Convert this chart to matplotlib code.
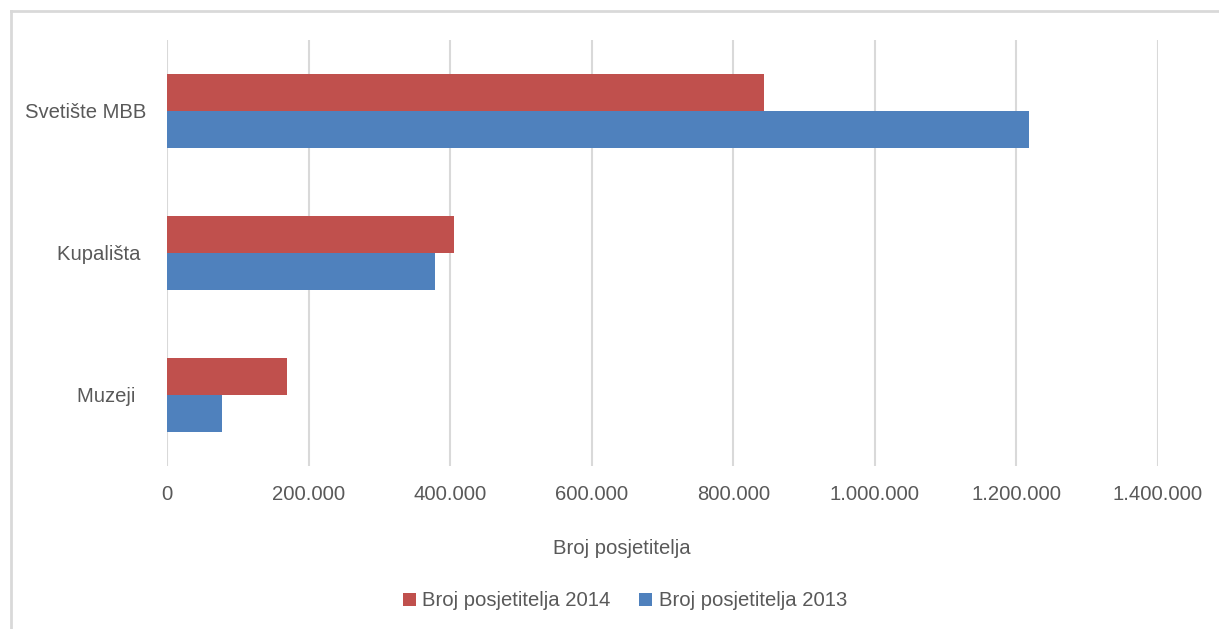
import numpy as np
import matplotlib.pyplot as plt
from matplotlib.ticker import FuncFormatter
from matplotlib.lines import Line2D

plt.rcParams['font.family'] = ['Liberation Sans', 'DejaVu Sans']

categories = ["Svetište MBB", "Kupališta ", "Muzeji  "]
visits_2014 = [844000, 405000, 169000]
visits_2013 = [1218000, 378000, 78000]
xticks = [0, 200000, 400000, 600000, 800000, 1000000, 1200000, 1400000]

red = '#C0504D'
blue = '#4F81BD'
text_c = '#595959'
grid_c = '#D9D9D9'
fs = 14.6

fig = plt.figure(figsize=(12.19, 6.29), dpi=100)
ax = fig.add_axes([167/1219, 1-466/629, (1158-167)/1219, 426/629])

y = np.arange(len(categories))
h = 0.26
ax.barh(y - h/2, visits_2014, height=h, color=red, label="Broj posjetitelja 2014", zorder=3)
ax.barh(y + h/2, visits_2013, height=h, color=blue, label="Broj posjetitelja 2013", zorder=3)

ax.set_ylim(2.5, -0.5)
ax.set_xlim(0, 1400000)
ax.set_yticks(y)
ax.set_yticklabels(categories)
ax.set_xticks(xticks)
ax.xaxis.set_major_formatter(FuncFormatter(lambda v, p: f"{int(v):,}".replace(",", ".")))
ax.grid(axis='x', color=grid_c, linewidth=1.5, zorder=0)
ax.tick_params(axis='both', length=0, labelsize=fs, labelcolor=text_c)
ax.tick_params(axis='x', pad=14)
ax.tick_params(axis='y', pad=15)
for s in ax.spines.values():
    s.set_visible(False)

fig.text(622/1219, 1-548/629, "Broj posjetitelja", ha='center', va='center',
         fontsize=fs, color=text_c)

leg = fig.legend(loc='center', bbox_to_anchor=(625/1219, 1-601/629), ncol=2,
                 frameon=False, fontsize=fs, labelcolor=text_c,
                 handlelength=0.65, handleheight=0.65, handletextpad=0.3, columnspacing=1.4)

# chart border (left and top edges visible)
fig.add_artist(Line2D([11/1219, 11/1219], [0, 1-11/629], color=grid_c, linewidth=2))
fig.add_artist(Line2D([11/1219, 1], [1-11/629, 1-11/629], color=grid_c, linewidth=2))

fig.savefig("out.png", dpi=100, facecolor='white')
